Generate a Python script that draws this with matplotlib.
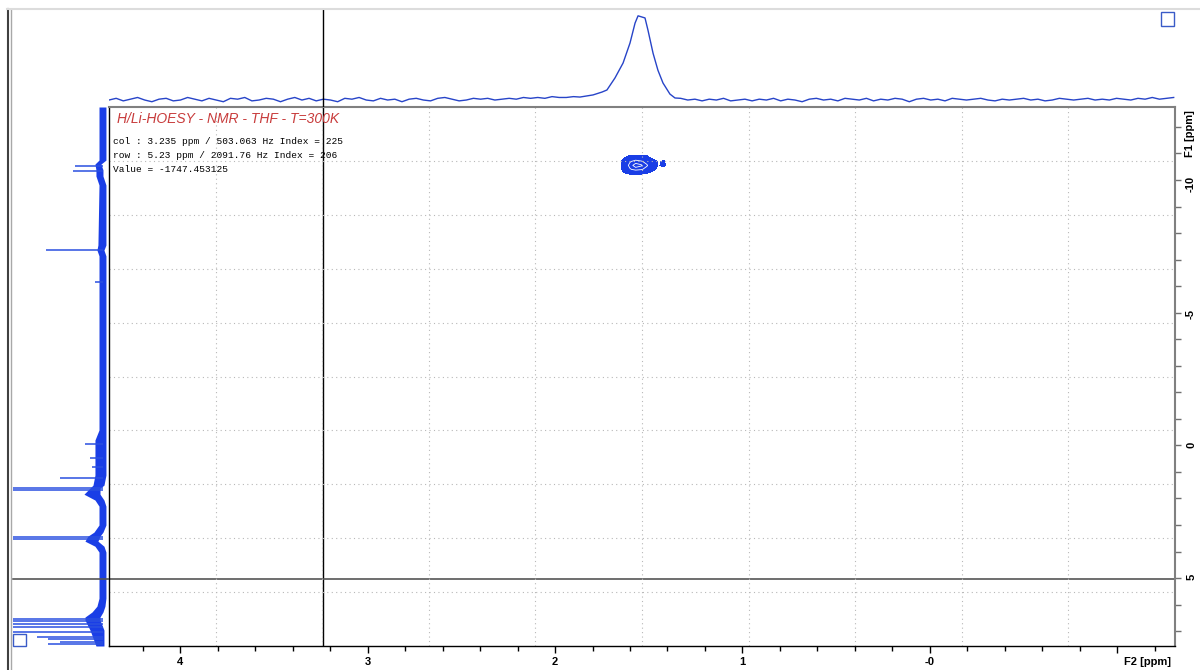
import numpy as np
import matplotlib.pyplot as plt
from matplotlib.lines import Line2D
from matplotlib.patches import Rectangle
from matplotlib.ticker import MultipleLocator

plt.rcParams['font.family'] = ['Liberation Sans', 'DejaVu Sans']

# ---- data ----
# F2 projection (top trace): baseline noise on an even ppm grid
top_noise = [
    0.00, 0.02, -0.01, 0.01, 0.03, 0.00, -0.02, 0.01, 0.02, -0.01,
    0.00, 0.03, 0.01, -0.01, 0.02, 0.00, -0.02, 0.02, 0.01, 0.03,
    -0.01, 0.00, 0.02, 0.01, -0.02, 0.01, 0.03, 0.00, 0.02, -0.01,
    0.01, 0.00, -0.02, 0.02, 0.01, 0.03, 0.00, -0.01, 0.02, 0.00,
    0.01, -0.02, 0.01, 0.02, 0.00, -0.01, 0.02, 0.03, 0.01, -0.01,
    0.00, 0.02, 0.01, 0.02, 0.00, 0.01, 0.02, 0.01, 0.03, 0.02,
    0.03, 0.02, 0.04, 0.03, 0.03, 0.04, 0.00, 0.00, 0.00, 0.00,
    0.00, 0.00, 0.00, 0.00, 0.00, 0.00, 0.00, 0.00, 0.00, 0.00,
    0.02, 0.00, 0.01, -0.01, 0.01, 0.00, 0.02, -0.01, 0.00, 0.01,
    -0.01, 0.01, 0.00, 0.02, -0.01, 0.01, 0.00, -0.02, 0.01, 0.02,
    0.00, 0.01, -0.01, 0.02, 0.01, 0.00, 0.02, -0.01, 0.01, 0.00,
    0.02, 0.01, -0.02, 0.01, 0.02, 0.00, 0.01, -0.01, 0.02, 0.01,
    0.00, 0.01, 0.02, 0.00, -0.01, 0.01, 0.00, 0.01, 0.02, 0.00,
    0.01, -0.01, 0.00, 0.02, 0.01, 0.00, 0.01, 0.02, 0.00, 0.01,
    0.00, 0.02, 0.01, 0.00, 0.02, 0.01, 0.03, 0.01, 0.02, 0.03,
]
top_peak_ppm = [1.867, 1.797, 1.749, 1.723, 1.680, 1.637, 1.600, 1.573,
                1.557, 1.520, 1.504, 1.477, 1.451, 1.424, 1.387, 1.360]
top_peak_int = [0.035, 0.06, 0.094, 0.118, 0.26, 0.435, 0.67, 0.905,
                0.99, 0.965, 0.82, 0.55, 0.35, 0.20, 0.07, 0.024]

# F1 projection (left trace): lines
left_peak_ppm = [-10.53, -10.34, -7.36, -6.16, -0.05, 0.48, 0.82, 1.23,
                 1.61, 1.70, 3.45, 3.53, 6.56, 6.63, 6.74, 6.86, 7.05,
                 7.23, 7.30, 7.40, 7.49]
left_peak_int = [0.31, 0.33, 0.63, 0.09, 0.20, 0.14, 0.12, 0.48,
                 1.0, 1.0, 1.0, 1.0, 1.0, 1.0, 1.0, 1.0, 1.0,
                 0.73, 0.61, 0.48, 0.61]
# noise band of the F1 trace
band_ppm = [-12.75, -10.75, -10.60, -10.38, -10.15, -9.81, -7.55, -7.36,
            -7.14, -0.58, -0.20, 1.12, 1.50, 1.61, 1.84, 2.06, 2.29, 3.00,
            3.27, 3.42, 3.61, 3.80, 4.02, 5.76, 6.06, 6.28, 6.47, 6.58,
            6.96, 7.56]
band_hi = [0.044, 0.044, 0.089, 0.078, 0.078, 0.044, 0.056, 0.067,
           0.044, 0.044, 0.089, 0.089, 0.111, 0.144, 0.211, 0.089, 0.044, 0.044,
           0.100, 0.167, 0.200, 0.089, 0.044, 0.044, 0.067, 0.122, 0.200, 0.200,
           0.144, 0.078]
band_lo = [-0.033, -0.033, 0.022, 0.0, 0.0, -0.033, -0.033, -0.011,
           -0.033, -0.033, -0.033, -0.033, -0.011, 0.033, 0.033, -0.011, -0.033, -0.033,
           0.0, 0.033, 0.056, -0.011, -0.033, -0.033, -0.022, 0.0, 0.033, 0.033,
           -0.011, -0.011]

# 2D cross peak
blob_f2 = [1.66, 1.63, 1.60, 1.57, 1.54, 1.51, 1.48, 1.45, 1.42, 1.39]
blob_f1 = [-11.0, -10.85, -10.7, -10.55, -10.4, -10.25, -10.1]
blob_z = [
    [0, 0, 0, 0, 0, 0, 0, 0, 0, 0],
    [0, 0.2, 0.5, 0.6, 0.5, 0.4, 0.1, 0, 0, 0],
    [0, 0.5, 0.9, 1.1, 1.0, 0.8, 0.5, 0.2, 0.3, 0],
    [0, 0.6, 1.1, 1.4, 1.3, 1.0, 0.6, 0.2, 0.35, 0],
    [0, 0.5, 0.9, 1.1, 1.0, 0.8, 0.4, 0.1, 0.1, 0],
    [0, 0.2, 0.3, 0.3, 0.3, 0.25, 0.1, 0, 0, 0],
    [0, 0, 0, 0, 0, 0, 0, 0, 0, 0],
]

col_cursor = 3.235
row_cursor = 5.04

f2_lim = (4.379, -1.307)
f1_lim = (7.56, -12.75)

title = 'H/Li-HOESY - NMR - THF - T=300K'
info = ['col : 3.235 ppm / 503.063 Hz Index = 225',
        'row : 5.23 ppm / 2091.76 Hz Index = 206',
        'Value = -1747.453125']

blue = '#1a3ee6'

# ---- figure ----
W, H = 1200, 670
fig = plt.figure(figsize=(12, 6.7), dpi=100)


def box(x0, y0, x1, y1):
    return [x0 / W, 1 - y1 / H, (x1 - x0) / W, (y1 - y0) / H]


ax = fig.add_axes(box(109, 107, 1175, 646))
axt = fig.add_axes(box(109, 8, 1175, 107))
axl = fig.add_axes(box(10, 107, 109, 646))

# top trace
noise_ppm = np.linspace(4.379, -1.30, len(top_noise))
noise_int = np.array(top_noise)
keep = (noise_ppm > top_peak_ppm[0]) | (noise_ppm < top_peak_ppm[-1])
tx = np.concatenate([noise_ppm[keep], top_peak_ppm])
ty = np.concatenate([noise_int[keep], top_peak_int])
order = np.argsort(-tx)
axt.plot(tx[order], ty[order], color='#2744c8', lw=1)
axt.axvline(col_cursor, color='k', lw=1)
axt.set_xlim(f2_lim)
axt.set_ylim(-0.082, 1.082)
axt.axis('off')

# left trace
axl.fill_betweenx(band_ppm, band_lo, band_hi, color=blue, lw=0)
axl.hlines(left_peak_ppm, 0, left_peak_int, color='#2a4fe0', lw=1.1)
axl.axhline(row_cursor, xmin=0.03, color='#555555', lw=1.2)
axl.set_xlim(1.033, -0.067)
axl.set_ylim(f1_lim)
axl.axis('off')

# main 2D area
ax.contourf(blob_f2, blob_f1, blob_z, levels=[0.25, 2.0], colors=[blue])
ax.contour(blob_f2, blob_f1, blob_z, levels=[0.95, 1.25], colors='white',
           linewidths=0.6)
ax.axvline(col_cursor, color='k', lw=1)
ax.axhline(row_cursor, color='#555555', lw=1.2)
for k in range(1, 10):
    ax.plot([k / 10, k / 10], [0, 1], transform=ax.transAxes,
            ls=(0, (1, 3)), color='#b8b8b8', lw=0.8)
    ax.plot([0, 1], [k / 10, k / 10], transform=ax.transAxes,
            ls=(0, (1, 3)), color='#b8b8b8', lw=0.8)

ax.set_xlim(f2_lim)
ax.set_ylim(f1_lim)
ax.set_xticks([4, 3, 2, 1, 0, -1])
ax.set_xticklabels(['4', '3', '2', '1', '-0', ''])
ax.xaxis.set_minor_locator(MultipleLocator(0.2))
ax.yaxis.tick_right()
ax.set_yticks([-10, -5, 0, 5])
ax.set_yticklabels(['-10', '-5', '0', '5'])
ax.yaxis.set_minor_locator(MultipleLocator(1))
ax.tick_params(axis='x', which='major', length=5, width=1, labelsize=8, pad=3)
ax.tick_params(axis='x', which='minor', length=3.5, width=1)
ax.tick_params(axis='y', which='both', length=4, width=1, color='#707070',
               labelsize=8, pad=4, labelrotation=90)
for lbl in ax.get_xticklabels() + ax.get_yticklabels():
    lbl.set_fontweight('bold')
for side in ['left', 'bottom']:
    ax.spines[side].set_color('black')
    ax.spines[side].set_linewidth(1)
for side in ['top', 'right']:
    ax.spines[side].set_color('#808080')
    ax.spines[side].set_linewidth(1.5)

fig.text(1148 / W, 1 - 662 / H, 'F2 [ppm]', ha='center', va='center',
         fontsize=8, fontweight='bold')
fig.text(1190 / W, 1 - 134 / H, 'F1 [ppm]', ha='center', va='center',
         fontsize=8, fontweight='bold', rotation=90)

fig.text(117 / W, 1 - 119 / H, title, color='#c83c3c', style='italic',
         fontsize=10, va='center')
for i, line in enumerate(info):
    fig.text(113 / W, 1 - (141 + 14 * i) / H, line, family='Liberation Mono',
             fontsize=6.8, va='center')

# window frame bits
fig.add_artist(Line2D([7.5 / W, 7.5 / W], [0, 1 - 9 / H], color='#404040', lw=1.5))
fig.add_artist(Line2D([10.5 / W, 10.5 / W], [0, 1 - 9 / H], color='#a8a8a8', lw=1))
fig.add_artist(Line2D([7 / W, 1], [1 - 8.5 / H, 1 - 8.5 / H], color='#dcdcdc', lw=1.5))
fig.add_artist(Rectangle((1161 / W, 1 - 26 / H), 13 / W, 14 / H, fill=False,
                         ec='#3a5bc7', lw=1))
fig.add_artist(Rectangle((13 / W, 1 - 646 / H), 13 / W, 12 / H, fill=False,
                         ec='#3a5bc7', lw=1))

fig.savefig('out.png', dpi=100)
